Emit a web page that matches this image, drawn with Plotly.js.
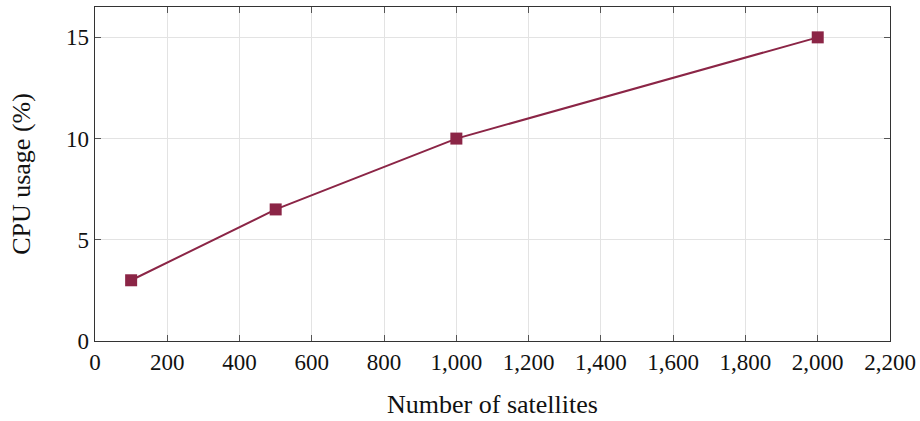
<!DOCTYPE html>
<html>
<head>
<meta charset="utf-8">
<script src="https://cdn.plot.ly/plotly-3.0.1.min.js"></script>
<style>html,body{margin:0;padding:0;background:#fff;}#chart{width:920px;height:421px;}</style>
</head>
<body>
<div id="chart"></div>
<script>
const satellites = [100, 500, 1000, 2000];
const cpuUsage = [3, 6.5, 10, 15];
const xTickValues = [0, 200, 400, 600, 800, 1000, 1200, 1400, 1600, 1800, 2000, 2200];
const yTickValues = [0, 5, 10, 15];

const fontFamily = '"Liberation Serif", "DejaVu Serif", serif';
const axisCommon = {
  showline: true, linecolor: '#333', linewidth: 1.3, mirror: 'allticks',
  ticks: 'inside', ticklen: 6, tickcolor: '#555', tickwidth: 1,
  showgrid: true, gridcolor: '#e3e3e3', gridwidth: 1,
  zeroline: false,
  tickfont: {family: fontFamily, size: 23, color: '#111'}
};

const trace = {
  x: satellites, y: cpuUsage, type: 'scatter', mode: 'lines+markers',
  line: {color: '#8b2546', width: 2},
  marker: {symbol: 'square', size: 12, color: '#8b2546'}
};

const layout = {
  width: 920, height: 421,
  margin: {l: 95, r: 30, t: 7, b: 80},
  paper_bgcolor: '#fff', plot_bgcolor: '#fff',
  showlegend: false,
  xaxis: Object.assign({}, axisCommon, {
    range: [0, 2200], tickvals: xTickValues, tickformat: ',d',
    title: {text: 'Number of satellites', font: {family: fontFamily, size: 26, color: '#111'}, standoff: 21}
  }),
  yaxis: Object.assign({}, axisCommon, {
    range: [0, 16.5], tickvals: yTickValues,
    title: {text: 'CPU usage (%)', font: {family: fontFamily, size: 26, color: '#111'}, standoff: 28}
  })
};

Plotly.newPlot('chart', [trace], layout, {displayModeBar: false, staticPlot: true});
</script>
</body>
</html>
